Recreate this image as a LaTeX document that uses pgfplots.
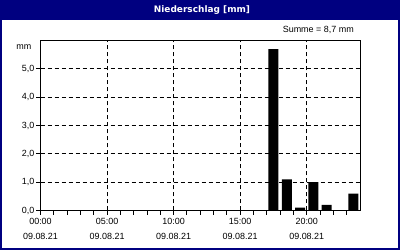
\documentclass[border=0pt]{standalone}
\usepackage{fontspec}
\setmainfont{Liberation Sans}
\newfontfamily\titlefont{DejaVu Sans}
\usepackage{pgfplots}
\pgfplotsset{compat=1.18}
\definecolor{navyb}{RGB}{0,0,128}
\begin{document}
\begin{tikzpicture}[x=1bp,y=1bp]
\fill[white] (0,0) rectangle (400,250);
\fill[navyb] (0,229.5) rectangle (400,250);
\node[white,font=\titlefont\bfseries\fontsize{9}{10}\selectfont] at (202,240) {Niederschlag [mm]};
\draw[navyb,line width=2bp] (1,1) rectangle (399,249);
\node[anchor=east,inner sep=0pt,font=\fontsize{9}{10}\selectfont] at (354,220) {Summe = 8,7 mm};
\node[anchor=east,inner sep=0pt,font=\fontsize{9}{10}\selectfont] at (31.5,203.3) {mm};
\begin{axis}[
  at={(40.5bp,39.5bp)}, anchor=south west,
  scale only axis, width=319.5bp, height=169.8bp,
  xmin=0, xmax=24, ymin=0, ymax=6,
  axis line style={line width=1bp,black},
  xtick={0,5,10,15,20},
  xticklabels={{00:00\\09.08.21},{05:00\\09.08.21},{10:00\\09.08.21},{15:00\\09.08.21},{20:00\\09.08.21}},
  minor xtick={1,2,3,4,6,7,8,9,11,12,13,14,16,17,18,19,21,22,23},
  ytick={0,1,2,3,4,5},
  yticklabels={{0,0},{1,0},{2,0},{3,0},{4,0},{5,0}},
  xtick pos=bottom, ytick pos=left,
  tick align=outside,
  major tick length=4bp, minor tick length=4bp,
  tick style={black,line width=1bp},
  minor tick style={black,line width=1bp},
  grid=major,
  major grid style={black,line width=1bp,dash pattern=on 4bp off 3bp},
  minor grid style={draw=none},
  xticklabel style={align=center,font=\fontsize{9}{14.3}\selectfont,inner sep=0pt,yshift=-4bp},
  yticklabel style={font=\fontsize{9}{10}\selectfont,inner sep=2bp},
]
\addplot[ybar, bar width=10bp, fill=black, draw=none] coordinates {
  (17.5,5.7) (18.5,1.1) (19.5,0.1) (20.5,1.0) (21.5,0.2) (23.5,0.6)
};
\end{axis}
\end{tikzpicture}
\end{document}
